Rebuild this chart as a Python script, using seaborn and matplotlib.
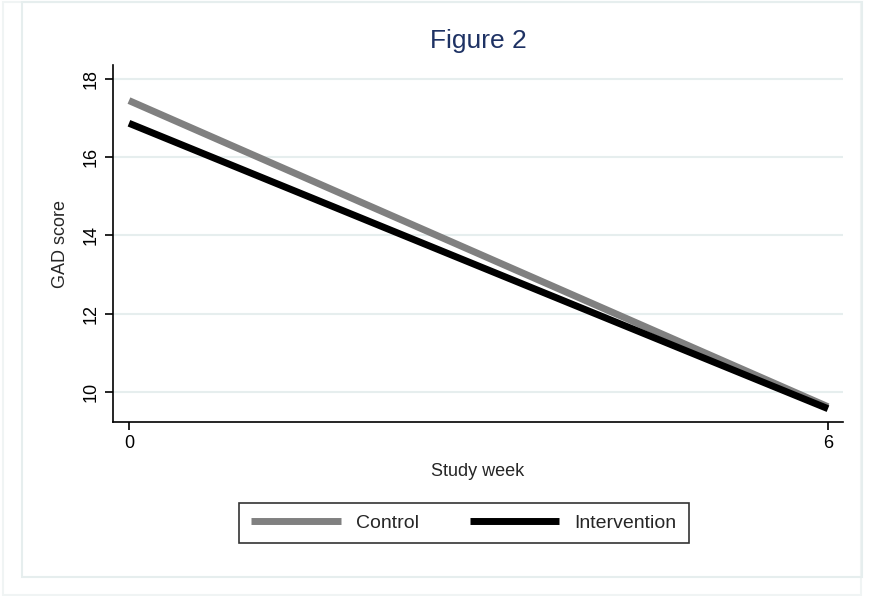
import matplotlib
matplotlib.use("Agg")
import matplotlib.pyplot as plt
import pandas as pd
import seaborn as sns
from matplotlib.patches import Rectangle

# data
weeks = [0, 6]
control = [17.45, 9.62]
intervention = [16.87, 9.57]
groups = ["Control", "Intervention"]
y_ticks = [10, 12, 14, 16, 18]
x_ticks = [0, 6]

df = pd.DataFrame({
    "week": weeks + weeks,
    "score": control + intervention,
    "group": [groups[0]] * len(weeks) + [groups[1]] * len(weeks),
})

sns.set_style("white")
plt.rcParams["font.family"] = ["Liberation Sans", "DejaVu Sans"]
plt.rcParams["lines.solid_capstyle"] = "butt"

fig = plt.figure(figsize=(8.81, 5.96), dpi=100)
W, H = 881, 596

# light frames around the graph region
fig.patches.append(Rectangle((3 / W, 1 - 595 / H), 858 / W, 593 / H,
                             transform=fig.transFigure, fill=False,
                             edgecolor="#f0f4f4", linewidth=1.5))
fig.patches.append(Rectangle((22 / W, 1 - 577 / H), 840 / W, 575 / H,
                             transform=fig.transFigure, fill=False,
                             edgecolor="#e6eeee", linewidth=1.5))

ax = fig.add_axes([113 / W, 1 - 422 / H, 730 / W, 357 / H])
sns.lineplot(data=df, x="week", y="score", hue="group",
             palette={"Control": "#808080", "Intervention": "#000000"},
             linewidth=5, ax=ax, legend=False)

ax.set_xlim(-0.137, 6.129)
ax.set_ylim(9.23, 18.36)
ax.set_yticks(y_ticks)
ax.set_xticks(x_ticks)
ax.set_yticklabels([str(t) for t in y_ticks], rotation=90, va="center")
ax.tick_params(axis="both", direction="out", length=6, width=1.2,
               labelsize=13, colors="black", left=True, bottom=True)
for t in y_ticks:
    ax.axhline(t, color="#e6eeee", linewidth=1.5, zorder=0)
ax.spines["top"].set_visible(False)
ax.spines["right"].set_visible(False)
for s in ["left", "bottom"]:
    ax.spines[s].set_color("black")
    ax.spines[s].set_linewidth(1.2)

ax.set_xlabel("Study week", fontsize=13, labelpad=8)
ax.set_ylabel("GAD score", fontsize=13, labelpad=10)
ax.set_title("Figure 2", fontsize=19, color="#1e3264", pad=12)

handles = [plt.Line2D([], [], color="#808080", linewidth=5),
           plt.Line2D([], [], color="#000000", linewidth=5)]
leg = ax.legend(handles, groups, loc="center",
                bbox_to_anchor=(464 / W, 1 - 523 / H),
                bbox_transform=fig.transFigure, ncol=2, fontsize=14,
                frameon=True, fancybox=False, handlelength=4.6,
                handletextpad=0.8, columnspacing=2.6, borderpad=0.6)
leg.get_frame().set_edgecolor("black")
leg.get_frame().set_linewidth(1.2)

fig.savefig("out.png", dpi=100)
